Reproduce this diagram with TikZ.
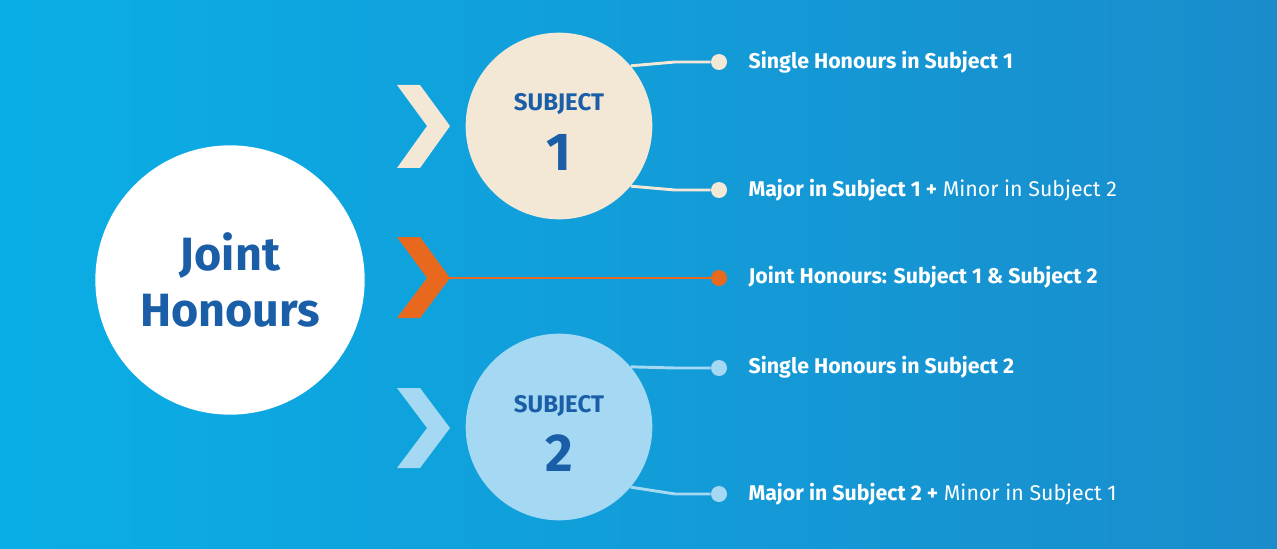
\documentclass[tikz,border=0pt]{standalone}
\usepackage{fontspec}
\setmainfont{Fira Sans}
\definecolor{dblue}{HTML}{1A5EA8}
\definecolor{beige}{HTML}{F3E7D6}
\definecolor{lblue}{HTML}{A4D8F3}
\definecolor{orng}{HTML}{E8691E}
\definecolor{bgl}{HTML}{0AAEE6}
\definecolor{bgr}{HTML}{1A8CCC}
\begin{document}
\begin{tikzpicture}[x=0.75pt,y=-0.75pt,
  lab/.style={anchor=west,text=white,font=\fontsize{16}{19}\selectfont},
  dotc/.style={circle,inner sep=0pt,minimum size=12pt},
  conn/.style={line width=2.2pt}]
\shade[left color=bgl,right color=bgr] (0,0) rectangle (1277,549);
\useasboundingbox (0,0) rectangle (1277,549);
\node[circle,fill=white,minimum size=202pt,inner sep=0pt,align=center,text=dblue,
  font=\fontsize{35}{42}\selectfont\bfseries] (j) at (230,280) {Joint\\Honours};
\node[circle,fill=beige,minimum size=140pt,inner sep=0pt] (s1) at (559,126) {};
\node[circle,fill=lblue,minimum size=140pt,inner sep=0pt] (s2) at (559,427) {};
\node[text=dblue,font=\fontsize{18}{20}\selectfont\bfseries] (s1a) at (559,104) {SUBJECT};
\node[text=dblue,font=\fontsize{40}{44}\selectfont\bfseries] (s1b) at (559,152) {1};
\node[text=dblue,font=\fontsize{18}{20}\selectfont\bfseries] (s2a) at (559,406) {SUBJECT};
\node[text=dblue,font=\fontsize{40}{44}\selectfont\bfseries] (s2b) at (559,453) {2};
\fill[beige] (397,85)--(420,85)--(450,126)--(420,168)--(397,168)--(427,126)--cycle;
\fill[orng] (397,237)--(420,237)--(450,278)--(420,318)--(397,318)--(427,278)--cycle;
\fill[lblue] (397,388)--(420,388)--(450,428)--(420,468)--(397,468)--(427,428)--cycle;
\coordinate (c1) at (440,278);
\node[dotc,fill=beige] (d1) at (719,62) {};
\node[dotc,fill=beige] (d2) at (719,190) {};
\node[dotc,fill=orng] (d3) at (719,278) {};
\node[dotc,fill=lblue] (d4) at (719,368) {};
\node[dotc,fill=lblue] (d5) at (719,494) {};
\draw[conn,beige] (s1.40) -- (675,62) -- (d1);
\draw[conn,beige] (s1.-40) -- (675,190) -- (d2);
\draw[conn,orng] (c1) -- (d3);
\draw[conn,lblue] (s2.40) -- (675,368) -- (d4);
\draw[conn,lblue] (s2.-40) -- (675,494) -- (d5);
\node[lab] at (744,62) {\bfseries Single Honours in Subject 1};
\node[lab] at (744,190) {\textbf{Major in Subject 1 +} Minor in Subject 2};
\node[lab] at (744,277) {\bfseries Joint Honours: Subject 1 \& Subject 2};
\node[lab] at (744,367) {\bfseries Single Honours in Subject 2};
\node[lab] at (744,494) {\textbf{Major in Subject 2 +} Minor in Subject 1};
\end{tikzpicture}
\end{document}
